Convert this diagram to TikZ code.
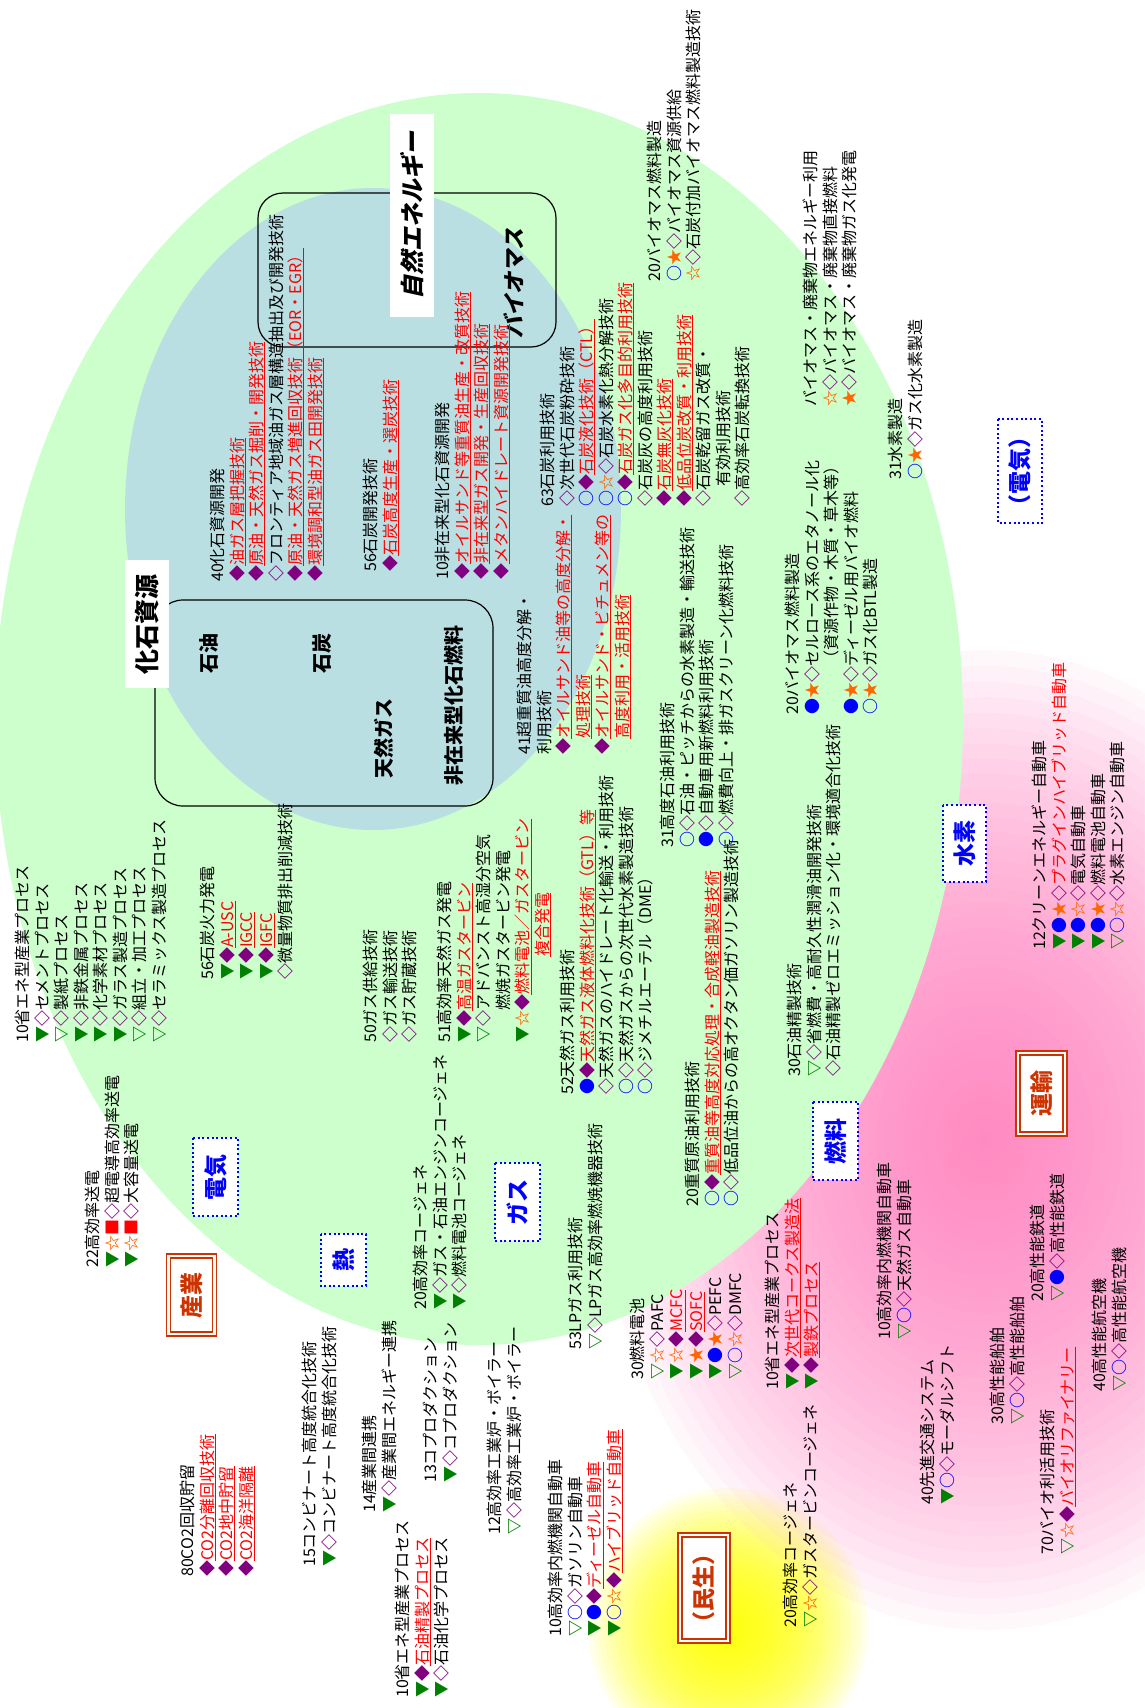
\documentclass[tikz,border=0pt]{standalone}
\usepackage{fontspec}
\newfontfamily\jp{Noto Sans CJK JP}
\newfontfamily\jpsl{Noto Sans CJK JP}[FakeSlant=0.22,BoldFeatures={FakeSlant=0.22}]
\definecolor{cgreenbg}{RGB}{204,255,204}
\definecolor{cbluebg}{RGB}{186,223,227}
\definecolor{cgr}{RGB}{0,128,0}
\definecolor{cpu}{RGB}{128,0,128}
\definecolor{cbl}{RGB}{0,0,255}
\definecolor{cor}{RGB}{255,102,0}
\definecolor{crd}{RGB}{255,0,0}
\definecolor{cbox}{RGB}{204,51,0}
\definecolor{cpink}{RGB}{255,130,195}
\definecolor{cyel}{RGB}{255,255,0}
\newcommand\sTf{\textcolor{cgr}{▼}}
\newcommand\sTo{\textcolor{cgr}{\bfseries ▽}}
\newcommand\sDf{\textcolor{cpu}{◆}}
\newcommand\sDo{\textcolor{cpu}{\bfseries ◇}}
\newcommand\sCf{\textcolor{cbl}{●}}
\newcommand\sCo{\textcolor{cbl}{\bfseries ○}}
\newcommand\sSf{\textcolor{cor}{★}}
\newcommand\sSo{\textcolor{cor}{\bfseries ☆}}
\newcommand\sSq{\textcolor{crd}{■}}
\newsavebox\ulbx
\newcommand\ru[1]{{\color{crd}\sbox\ulbx{#1}\rlap{\rule[-2.6pt]{\wd\ulbx}{0.8pt}}\usebox\ulbx}}
\tikzset{
 blk/.style={rotate=90, anchor=north west, inner sep=0pt, align=left, font=\jp\fontsize{16pt}{19.5pt}\selectfont},
 catlab/.style={rotate=90, draw=cbl, line width=2pt, dash pattern=on 2pt off 2.6pt, fill=white, text=cbl, font=\jp\bfseries\fontsize{23pt}{26pt}\selectfont, inner sep=0pt},
 seclab/.style={rotate=90, draw=cbox, double=white, double distance=2.2pt, line width=1.6pt, fill=white, text=cbox, font=\jp\bfseries\fontsize{23pt}{26pt}\selectfont, inner sep=0pt},
 whitelab/.style={rotate=90, fill=white, inner sep=0pt},
 bigt/.style={rotate=90, inner sep=0pt, font=\jp\bfseries\fontsize{20pt}{24pt}\selectfont},
 rbox/.style={draw=black, line width=1.2pt}
}
\begin{document}
\begin{tikzpicture}[x=1pt,y=-1pt]
\fill[white] (0,0) rectangle (1144,1708);
\useasboundingbox (0,0) rectangle (1144,1708);
% glows (stacked translucent ellipses)
\foreach \i in {1,...,30}{
  \pgfmathsetmacro\rr{(\i/30)^1.2}
  \fill[cyel, fill opacity=0.08] (728,1628) ellipse [x radius=140*\rr, y radius=140*\rr];
}
\foreach \i in {1,...,40}{
  \pgfmathsetmacro\rr{(\i/40)^1.3}
  \fill[cpink, fill opacity=0.05] (985,1140) ellipse [x radius=390*\rr, y radius=490*\rr];
}
% ellipses
\fill[cgreenbg] (479,719) ellipse [x radius=484, y radius=626];
\fill[cbluebg] (373,509) ellipse [x radius=248, y radius=321];
% group boxes
\draw[rbox, rounded corners=28pt] (155,600) rectangle (493,806);
\draw[rbox, rounded corners=25pt] (258,193) rectangle (556,347);
% header labels
\node[whitelab, minimum width=128pt, minimum height=44pt, font=\jp\bfseries\fontsize{25pt}{28pt}\selectfont] (lfossil) at (147,624) {化石資源};
\node[whitelab, minimum width=203pt, minimum height=44pt, font=\jpsl\bfseries\fontsize{24pt}{28pt}\selectfont] (lnature) at (412,215) {自然エネルギー};
\node[bigt] (tsekiyu) at (209,653) {石油};
\node[bigt] (tsekitan) at (322,653) {石炭};
\node[bigt] (tgas) at (384,738) {天然ガス};
\node[bigt] (tuncon) at (454,705) {非在来型化石燃料};
\node[bigt, font=\jpsl\bfseries\fontsize{22pt}{24pt}\selectfont] (tbio) at (514,283) {バイオマス};
% category labels
\node[catlab, minimum width=78pt, minimum height=45pt] (cden1) at (215.5,1177) {電気};
\node[catlab, minimum width=52pt, minimum height=45pt] (cnetsu) at (343.5,1260) {熱};
\node[catlab, minimum width=78pt, minimum height=45pt] (cgas) at (517.5,1202) {ガス};
\node[catlab, minimum width=78pt, minimum height=45pt] (cnenryo) at (835.5,1141) {燃料};
\node[catlab, minimum width=77pt, minimum height=43pt] (csuiso) at (964.5,843.5) {水素};
\node[catlab, minimum width=104pt, minimum height=44pt] (cden2) at (1020,471) {（電気）};
% sector labels
\node[seclab, minimum width=78pt, minimum height=46pt] (ssangyo) at (191.5,1295) {産業};
\node[seclab, minimum width=81pt, minimum height=47pt] (sunyu) at (1041.5,1093.5) {運輸};
\node[seclab, minimum width=106pt, minimum height=48pt] (sminsei) at (704,1588) {（民生）};
% text blocks
\node[blk] (nA) at (15,1043) {10省エネ型産業プロセス\\ \sTf\sDo セメントプロセス\\ \sTo\sDo 製紙プロセス\\ \sTf\sDo 非鉄金属プロセス\\ \sTf\sDo 化学素材プロセス\\ \sTf\sDo ガラス製造プロセス\\ \sTo\sDo 組立・加工プロセス\\ \sTo\sDo セラミックス製造プロセス};
\node[blk] (nB) at (200,980) {56石炭火力発電\\ \sTf\sDf\ru{A-USC}\\ \sTf\sDf\ru{IGCC}\\ \sTf\sDf\ru{IGFC}\\ \sDo 微量物質排出削減技術};
\node[blk] (nC) at (85,1268) {22高効率送電\\ \sTf\sSo\sSq\sDo 超電導高効率送電\\ \sTf\sSo\sSq\sDo 大容量送電};
\node[blk] (nD) at (363,1043) {50ガス供給技術\\ \sDo ガス輸送技術\\ \sDo ガス貯蔵技術};
\node[blk] (nE) at (437,1043) {51高効率天然ガス発電\\ \sTf\sDf\ru{高温ガスタービン}\\ \sTo\sDo アドバンスト高湿分空気\\ \hspace*{32pt}燃焼ガスタービン発電\\ \sTf\sSo\sDf\ru{燃料電池／ガスタービン}\\ \hspace*{86pt}\ru{複合発電}};
\node[blk] (nF) at (560,1095) {52天然ガス利用技術\\ \sCf\sDf\ru{天然ガス液体燃料化技術（GTL）等}\\ \sDo 天然ガスのハイドレート化輸送・利用技術\\ \sCo\sDo 天然ガスからの次世代水素製造技術\\ \sCo\sDo ジメチルエーテル（DME）};
\node[blk] (nG) at (685,1207) {20重質原油利用技術\\ \sCo\sDf\ru{重質油等高度対応処理・合成軽油製造技術}\\ \sCo\sDo 低品位油からの高オクタン価ガソリン製造技術};
\node[blk] (nH) at (413,1310) {20高効率コージェネ\\ \sTf\sDo ガス・石油エンジンコージェネ\\ \sTf\sDo 燃料電池コージェネ};
\node[blk] (nI) at (568,1350) {53LPガス利用技術\\ \sTo\sDo LPガス高効率燃焼機器技術};
\node[blk] (nJ) at (362,1513) {14産業間連携\\ \sTf\sDo 産業間エネルギー連携};
\node[blk] (nK) at (395,1698) {10省エネ型産業プロセス\\ \sTf\sDf\ru{石油精製プロセス}\\ \sTf\sDo 石油化学プロセス};
\node[blk] (nL) at (423,1483) {13コプロダクション\\ \sTf\sDo コプロダクション};
\node[blk] (nM) at (487,1535) {12高効率工業炉・ボイラー\\ \sTo\sDo 高効率工業炉・ボイラー};
\node[blk] (nN) at (548,1637) {10高効率内燃機関自動車\\ \sTo\sCo\sDo ガソリン自動車\\ \sTf\sCf\sDf\ru{ディーゼル自動車}\\ \sTf\sCo\sSo\sDf\ru{ハイブリッド自動車}};
\node[blk] (nO) at (630,1380) {30燃料電池\\ \sTo\sSo\sDo PAFC\\ \sTf\sSo\sDf\ru{MCFC}\\ \sTf\sSf\sDf\ru{SOFC}\\ \sTf\sCf\sSf\sDo PEFC\\ \sTo\sCo\sSo\sDo DMFC};
\node[blk] (nP) at (765,1390) {10省エネ型産業プロセス\\ \sTf\sDf\ru{次世代コークス製造法}\\ \sTf\sDf\ru{製鉄プロセス}};
\node[blk] (nQ) at (180,1577) {80CO2回収貯留\\ \sDf\ru{CO2分離回収技術}\\ \sDf\ru{CO2地中貯留}\\ \sDf\ru{CO2海洋隔離}};
\node[blk] (nR) at (302,1567) {15コンビナート高度統合化技術\\ \sTf\sDo コンビナート高度統合化技術};
\node[blk] (nS) at (783,1628) {20高効率コージェネ\\ \sTo\sSo\sDo ガスタービンコージェネ};
\node[blk] (nT) at (877,1340) {10高効率内燃機関自動車\\ \sTo\sCo\sDo 天然ガス自動車};
\node[blk] (nU) at (920,1505) {40先進交通システム\\ \sTf\sCo\sDo モーダルシフト};
\node[blk] (nV) at (990,1425) {30高性能船舶\\ \sTo\sCo\sDo 高性能船舶};
\node[blk] (nW) at (1030,1302) {20高性能鉄道\\ \sTo\sCf\sDo 高性能鉄道};
\node[blk] (nX) at (1040,1555) {70バイオ利活用技術\\ \sTo\sSo\sDf\ru{バイオリファイナリー}};
\node[blk] (nY) at (1092,1392) {40高性能航空機\\ \sTo\sCo\sDo 高性能航空機};
\node[blk] (nZ) at (787,1077) {30石油精製技術\\ \sTo\sDo 省燃費・高耐久性潤滑油開発技術\\ \sDo 石油精製ゼロエミッション化・環境適合化技術};
\node[blk] (nAA) at (1032,950) {12クリーンエネルギー自動車\\ \sTf\sCf\sSf\sDo\textcolor{crd}{プラグインハイブリッド自動車}\\ \sTf\sCf\sSo\sDo 電気自動車\\ \sTf\sCf\sSf\sDo 燃料電池自動車\\ \sTo\sCo\sSo\sDo 水素エンジン自動車};
\node[blk] (nAB) at (517,755) {41超重質油高度分解・\\ 利用技術\\ \sDf\ru{オイルサンド油等の高度分解・}\\ \hspace*{16pt}\ru{処理技術}\\ \sDf\ru{オイルサンド・ビチュメン等の}\\ \hspace*{16pt}\ru{高度利用・活用技術}};
\node[blk] (nAC) at (660,848) {31高度石油利用技術\\ \sCo\sDo 石油・ピッチからの水素製造・輸送技術\\ \sCf\sDo 自動車用新燃料利用技術\\ \sCo\sDo 燃費向上・排ガスクリーン化燃料技術};
\node[blk] (nAD) at (435,580) {10非在来型化石資源開発\\ \sDf\ru{オイルサンド等重質油生産・改質技術}\\ \sDf\ru{非在来型ガス開発・生産回収技術}\\ \sDf\ru{メタンハイドレート資源開発技術}};
\node[blk] (nAE) at (540,507) {63石炭利用技術\\ \sDo 次世代石炭粉砕技術\\ \sCo\sDf\ru{石炭液化技術（CTL）}\\ \sCo\sSo\sDo 石炭水素化熱分解技術\\ \sCo\sDf\ru{石炭ガス化多目的利用技術}\\ \sDo 石炭灰の高度利用技術\\ \sDf\ru{石炭無灰化技術}\\ \sDf\ru{低品位炭改質・利用技術}\\ \sDo 石炭乾留ガス改質・\\ \hspace*{20pt}有効利用技術\\ \sDo 高効率石炭転換技術};
\node[blk] (nAF) at (210,582) {40化石資源開発\\ \sDf\ru{油ガス層把握技術}\\ \sDf\ru{原油・天然ガス掘削・開発技術}\\ \sDo フロンティア地域油ガス層構造抽出及び開発技術\\ \sDf\ru{原油・天然ガス増進回収技術（EOR・EGR）}\\ \sDf\ru{環境調和型油ガス田開発技術}};
\node[blk] (nAG) at (363,572) {56石炭開発技術\\ \sDf\ru{石炭高度生産・選炭技術}};
\node[blk] (nAH) at (647,282) {20バイオマス燃料製造\\ \sCo\sSf\sDo バイオマス資源供給\\ \sSo\sDo 石炭付加バイオマス燃料製造技術};
\node[blk] (nAI) at (803,407) {バイオマス・廃棄物エネルギー利用\\ \sSo\sDo バイオマス・廃棄物直接燃料\\ \sSf\sDo バイオマス・廃棄物ガス化発電};
\node[blk] (nAJ) at (888,480) {31水素製造\\ \sCo\sSf\sDo ガス化水素製造};
\node[blk] (nAK) at (785,715) {20バイオマス燃料製造\\ \sCf\sSf\sDo セルロース系のエタノール化\\ \hspace*{48pt}（資源作物・木質・草木等）\\ \sCf\sSf\sDo ディーゼル用バイオ燃料\\ \sCo\sSf\sDo ガス化BTL製造};
\end{tikzpicture}
\end{document}
